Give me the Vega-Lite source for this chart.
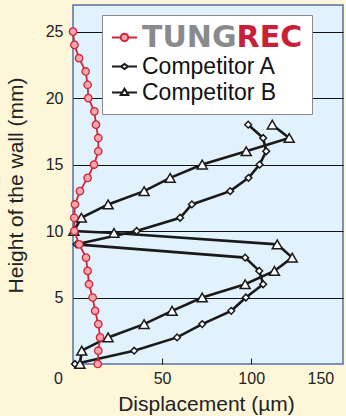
{
  "$schema": "https://vega.github.io/schema/vega-lite/v6.json",
  "width": 270,
  "height": 359,
  "autosize": {"type": "none"},
  "padding": {"left": 73, "top": 5, "right": 3, "bottom": 52},
  "background": "#fdf6d9",
  "config": {
    "view": {"fill": "#e1f2fc", "stroke": "#5770a8", "strokeWidth": 1.5},
    "font": "Liberation Sans"
  },
  "data": {
    "values": [
      {"series": "TUNGREC", "h": 25, "disp": 0},
      {"series": "TUNGREC", "h": 24, "disp": 0.8},
      {"series": "TUNGREC", "h": 23, "disp": 3.4},
      {"series": "TUNGREC", "h": 22, "disp": 7.1},
      {"series": "TUNGREC", "h": 21, "disp": 8.2},
      {"series": "TUNGREC", "h": 20, "disp": 8.6},
      {"series": "TUNGREC", "h": 19, "disp": 12},
      {"series": "TUNGREC", "h": 18, "disp": 12.9},
      {"series": "TUNGREC", "h": 17, "disp": 14.2},
      {"series": "TUNGREC", "h": 16, "disp": 14.2},
      {"series": "TUNGREC", "h": 15, "disp": 11.8},
      {"series": "TUNGREC", "h": 14, "disp": 8.2},
      {"series": "TUNGREC", "h": 13, "disp": 3.9},
      {"series": "TUNGREC", "h": 12, "disp": 1.1},
      {"series": "TUNGREC", "h": 11, "disp": 0.7},
      {"series": "TUNGREC", "h": 10, "disp": 0.7},
      {"series": "TUNGREC", "h": 9, "disp": 3.5},
      {"series": "TUNGREC", "h": 8, "disp": 7.3},
      {"series": "TUNGREC", "h": 7, "disp": 8.2},
      {"series": "TUNGREC", "h": 6, "disp": 9},
      {"series": "TUNGREC", "h": 5, "disp": 11},
      {"series": "TUNGREC", "h": 4, "disp": 12.4},
      {"series": "TUNGREC", "h": 3, "disp": 14.2},
      {"series": "TUNGREC", "h": 2, "disp": 15.2},
      {"series": "TUNGREC", "h": 1, "disp": 14.2},
      {"series": "TUNGREC", "h": 0, "disp": 13.9},
      {"series": "Competitor A", "h": 18, "disp": 98.3},
      {"series": "Competitor A", "h": 17, "disp": 106.7},
      {"series": "Competitor A", "h": 16, "disp": 108.4},
      {"series": "Competitor A", "h": 15, "disp": 104.7},
      {"series": "Competitor A", "h": 14, "disp": 98.5},
      {"series": "Competitor A", "h": 13, "disp": 88.2},
      {"series": "Competitor A", "h": 12, "disp": 66.7},
      {"series": "Competitor A", "h": 11, "disp": 60.1},
      {"series": "Competitor A", "h": 10, "disp": 35.7},
      {"series": "Competitor A", "h": 9, "disp": 2},
      {"series": "Competitor A", "h": 8, "disp": 96.6},
      {"series": "Competitor A", "h": 7, "disp": 104.5},
      {"series": "Competitor A", "h": 6, "disp": 106.7},
      {"series": "Competitor A", "h": 5, "disp": 97},
      {"series": "Competitor A", "h": 4, "disp": 88.8},
      {"series": "Competitor A", "h": 3, "disp": 72.5},
      {"series": "Competitor A", "h": 2, "disp": 58.4},
      {"series": "Competitor A", "h": 1, "disp": 34.3},
      {"series": "Competitor A", "h": 0, "disp": 1.1},
      {"series": "Competitor B", "h": 18, "disp": 111.8},
      {"series": "Competitor B", "h": 17, "disp": 121.3},
      {"series": "Competitor B", "h": 16, "disp": 97.2},
      {"series": "Competitor B", "h": 15, "disp": 72.5},
      {"series": "Competitor B", "h": 14, "disp": 54.5},
      {"series": "Competitor B", "h": 13, "disp": 39.9},
      {"series": "Competitor B", "h": 12, "disp": 19.7},
      {"series": "Competitor B", "h": 11, "disp": 4.7},
      {"series": "Competitor B", "h": 10, "disp": 0.5},
      {"series": "Competitor B", "h": 9.85, "disp": 23},
      {"series": "Competitor B", "h": 9, "disp": 114.6},
      {"series": "Competitor B", "h": 8, "disp": 123},
      {"series": "Competitor B", "h": 7, "disp": 113},
      {"series": "Competitor B", "h": 6, "disp": 96.6},
      {"series": "Competitor B", "h": 5, "disp": 72.5},
      {"series": "Competitor B", "h": 4, "disp": 55.6},
      {"series": "Competitor B", "h": 3, "disp": 39.9},
      {"series": "Competitor B", "h": 2, "disp": 19.7},
      {"series": "Competitor B", "h": 1, "disp": 4.9},
      {"series": "Competitor B", "h": 0, "disp": 3.9}
    ]
  },
  "encoding": {
    "x": {
      "field": "disp",
      "type": "quantitative",
      "scale": {"domain": [0, 151.5], "nice": false, "zero": false},
      "axis": {
        "title": "Displacement (µm)",
        "values": [0, 50, 100, 150],
        "grid": false,
        "domain": false,
        "tickSize": -6,
        "tickColor": "#1a1a1a",
        "tickWidth": 1,
        "labelFontSize": 16,
        "labelColor": "#222222",
        "labelPadding": 12,
        "labelFlush": false,
        "labelOffset": {"condition": [{"test": "datum.value === 0", "value": -15}, {"test": "datum.value === 150", "value": -20}], "value": 0},
        "tickOpacity": {"condition": {"test": "datum.value === 0 || datum.value === 150", "value": 0}, "value": 1},
        "titleFontSize": 21,
        "titleFontWeight": "normal",
        "titleColor": "#222222",
        "titleX": 133,
        "titleY": 46,
        "titleAlign": "center",
        "titleBaseline": "alphabetic"
      }
    },
    "y": {
      "field": "h",
      "type": "quantitative",
      "scale": {"domain": [0, 27], "nice": false},
      "axis": {
        "title": "Height of the wall (mm)",
        "values": [5, 10, 15, 20, 25],
        "ticks": false,
        "domain": false,
        "grid": true,
        "gridColor": "#111111",
        "gridWidth": 1,
        "gridOpacity": 1,
        "labelPadding": 10,
        "labelFontSize": 16,
        "labelColor": "#222222",
        "titleFontSize": 21,
        "titleFontWeight": "normal",
        "titleColor": "#222222",
        "titleAngle": -90,
        "titleX": -57,
        "titleY": 180,
        "titleAlign": "center",
        "titleBaseline": "middle"
      }
    },
    "order": {"value": null}
  },
  "layer": [
    {
      "transform": [{"filter": "datum.series !== 'TUNGREC'"}],
      "mark": {"type": "line", "strokeWidth": 2.6},
      "encoding": {
        "color": {
          "field": "series",
          "type": "nominal",
          "scale": {"domain": ["TUNGREC", "Competitor A", "Competitor B"], "range": ["#d0253a", "#1a1a1a", "#1a1a1a"]},
          "legend": {
            "title": null,
            "orient": "none",
            "legendX": 29,
            "legendY": 10,
            "fillColor": "white",
            "strokeColor": "#8a8a8a",
            "padding": 9,
            "symbolSize": 625,
            "rowPadding": 0,
            "labelOffset": 4,
            "labelFont": "Liberation Sans",
            "labelFontSize": 23,
            "labelColor": "#111111",
            "labelLimit": 300,
            "encode": {
              "symbols": {
                "update": {
                  "shape": [
                    {"test": "datum.value === 'TUNGREC'", "value": "M-1,0H-0.3M0.3,0H1M-0.3,0A0.3,0.3,0,1,1,0.3,0A0.3,0.3,0,1,1,-0.3,0Z"},
                    {"test": "datum.value === 'Competitor A'", "value": "M-1,0H-0.28M0.28,0H1M-0.28,0L0,-0.2L0.28,0L0,0.2Z"},
                    {"value": "M-1,0H-0.18M0.18,0H1M-0.3,0.2L0,-0.3L0.3,0.2Z"}
                  ],
                  "fill": [{"test": "datum.value === 'TUNGREC'", "value": "#f5a7ad"}, {"value": "white"}],
                  "stroke": [{"test": "datum.value === 'TUNGREC'", "value": "#d0253a"}, {"value": "#1a1a1a"}],
                  "strokeWidth": {"value": 2},
                  "opacity": {"value": 1},
                  "fillOpacity": {"value": 1}
                }
              },
              "labels": {
                "update": {
                  "fill": [
                    {"test": "datum.value === 'TUNGREC'", "value": {"gradient": "linear", "x1": 0, "y1": 0, "x2": 1, "y2": 0, "stops": [{"offset": 0, "color": "#8a8a8c"}, {"offset": 0.58, "color": "#8a8a8c"}, {"offset": 0.58, "color": "#c8203a"}, {"offset": 1, "color": "#c8203a"}]}},
                    {"value": "#111111"}
                  ],
                  "fontSize": [{"test": "datum.value === 'TUNGREC'", "value": 30}, {"value": 23}],
                  "font": [{"test": "datum.value === 'TUNGREC'", "value": "DejaVu Sans"}, {"value": "Liberation Sans"}],
                  "fontWeight": [{"test": "datum.value === 'TUNGREC'", "value": "bold"}, {"value": "normal"}]
                }
              }
            }
          }
        }
      }
    },
    {
      "transform": [{"filter": "datum.series !== 'TUNGREC'"}],
      "mark": {"type": "point", "filled": true, "strokeWidth": 1.5, "opacity": 1, "fill": "white", "stroke": "#1a1a1a"},
      "encoding": {
        "shape": {"field": "series", "type": "nominal", "scale": {"domain": ["Competitor A", "Competitor B"], "range": ["diamond", "triangle-up"]}, "legend": null},
        "size": {"field": "series", "type": "nominal", "scale": {"domain": ["Competitor A", "Competitor B"], "range": [45, 100]}, "legend": null}
      }
    },
    {
      "transform": [{"filter": "datum.series === 'TUNGREC'"}],
      "mark": {"type": "line", "strokeWidth": 1.8},
      "encoding": {
        "color": {
          "field": "series",
          "type": "nominal",
          "scale": {"domain": ["TUNGREC", "Competitor A", "Competitor B"], "range": ["#d0253a", "#1a1a1a", "#1a1a1a"]}
        }
      }
    },
    {
      "transform": [{"filter": "datum.series === 'TUNGREC'"}],
      "mark": {"type": "point", "shape": "circle", "filled": true, "size": 55, "fill": "#f5a7ad", "stroke": "#d0253a", "strokeWidth": 1.3, "opacity": 1}
    }
  ]
}
